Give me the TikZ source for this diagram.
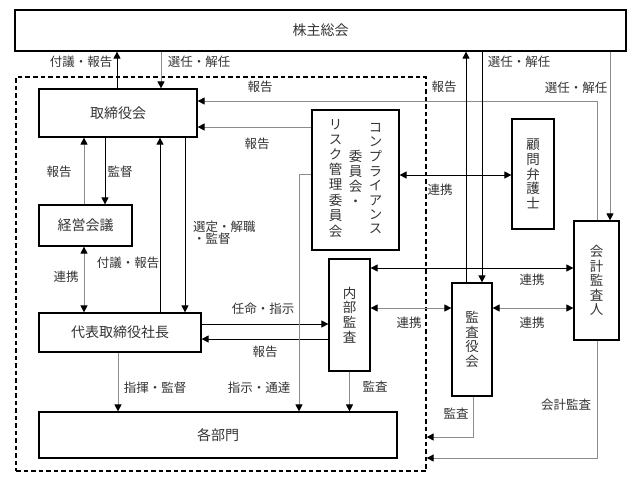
\documentclass[tikz,border=0pt]{standalone}
\usepackage{fontspec}
\setmainfont{Noto Sans CJK JP}
\newfontfamily\tatefont[RawFeature=+vert]{Noto Sans CJK JP}
\usetikzlibrary{positioning,arrows.meta,calc}

\begin{document}
\begin{tikzpicture}[x=1pt, y=-1pt,
    box/.style={draw, line width=1.2pt, inner sep=0pt, text=black!80, font=\fontsize{14}{16}\selectfont},
    tate/.style={box, align=center, font=\tatefont\fontsize{13.5}{14.6}\selectfont},
    lbl/.style={inner sep=0pt, text=black!80, font=\fontsize{12.5}{12}\selectfont},
    ln/.style={line width=0.8pt},
    gln/.style={line width=0.9pt, draw=black!45},
    >={Triangle[length=7pt, width=7pt, color=black]}]
  \useasboundingbox (0,0) rectangle (636,482);

  % boxes
  \node[box, minimum width=611, minimum height=41] (soukai) at (320.5,30.5) {株主総会};
  \node[draw, dash pattern=on 4.5pt off 3pt, line width=1.3pt, inner sep=0pt, minimum width=410, minimum height=394] (shanai) at (221,274) {};
  \node[box, minimum width=158, minimum height=48] (torishimari) at (118,113) {取締役会};
  \node[box, minimum width=93, minimum height=41] (kaigi) at (85.5,225.5) {経営会議};
  \node[box, minimum width=162, minimum height=39] (shacho) at (120,332.5) {代表取締役社長};
  \node[box, minimum width=358, minimum height=46] (bumon) at (218,435) {各部門};
  \node[box, font=\tatefont\fontsize{13.5}{14.3}\selectfont, minimum width=87, minimum height=140] (comp) at (355.5,180) {%
    \begin{tabular}{@{}c@{\hspace{6.5pt}}c@{\hspace{6.5pt}}c@{}}
      \begin{tabular}{@{}c@{}}リ\\ス\\ク\\管\\理\\委\\員\\会\end{tabular} &
      \begin{tabular}{@{}c@{}}委\\員\\会\\・\end{tabular} &
      \begin{tabular}{@{}c@{}}コ\\ン\\プ\\ラ\\イ\\ア\\ン\\ス\end{tabular}
    \end{tabular}};
  \node[tate, minimum width=42, minimum height=110] (komon) at (533,174) {顧\\問\\弁\\護\\士};
  \node[tate, minimum width=41, minimum height=112] (naibu) at (349.5,315) {内\\部\\監\\査};
  \node[tate, minimum width=40, minimum height=113] (kansayaku) at (472,339.5) {監\\査\\役\\会};
  \node[tate, minimum width=45, minimum height=119] (kaikei) at (596.5,280.5) {会\\計\\監\\査\\人};

  % 取締役会 and 株主総会
  \draw[ln,->] ([xshift=-1]torishimari.north) -- ([xshift=-1]torishimari.north |- soukai.south);
  \draw[gln,->] ([xshift=43]torishimari.north |- soukai.south) -- ([xshift=43]torishimari.north);
  \draw[gln,->] ([xshift=0.5]kaikei.north) |- ([yshift=12]torishimari.east);
  \draw[gln,->] ([yshift=53]comp.west) -- ([yshift=53]comp.west -| torishimari.east);

  % 経営会議, 代表取締役社長
  \draw[gln,->] ([xshift=-1.5]kaigi.north) -- ([xshift=-1.5]kaigi.north |- torishimari.south);
  \draw[ln,->] ([xshift=19.5]kaigi.north |- torishimari.south) -- ([xshift=19.5]kaigi.north);
  \draw[gln,<->] ([xshift=-1.5]kaigi.south) -- ([xshift=-1.5]kaigi.south |- shacho.north);
  \draw[ln,->] ([xshift=40]shacho.north) -- ([xshift=40]shacho.north |- torishimari.south);
  \draw[ln,->] ([xshift=65]shacho.north |- torishimari.south) -- ([xshift=65]shacho.north);
  \draw[ln,->] ([yshift=8.5]shacho.east) -- ([yshift=8.5]shacho.east -| naibu.west);
  \draw[ln,->] ([yshift=-6.5]shacho.east -| naibu.west) -- ([yshift=-6.5]shacho.east);

  % down to 各部門
  \draw[gln,->] ([xshift=-2]shacho.south) -- ([xshift=-2]shacho.south |- bumon.north);
  \draw[gln,->] ([yshift=6]comp.west) -| ([xshift=81]bumon.north);
  \draw[gln,->] (naibu.south) -- (naibu.south |- bumon.north);

  % 連携
  \draw[ln,<->] ([yshift=5]comp.east) -- ([yshift=5]comp.east -| komon.west);
  \draw[ln,<->] ([yshift=47]naibu.east) -- ([yshift=47]naibu.east -| kaikei.west);
  \draw[gln,<->] ([yshift=7]naibu.east) -- ([yshift=7]naibu.east -| kansayaku.west);
  \draw[gln,<->] ([yshift=31.5]kansayaku.east) -- ([yshift=31.5]kansayaku.east -| kaikei.west);

  % 監査役会, 会計監査人
  \draw[ln,->] ([xshift=-6]kansayaku.north) -- ([xshift=-6]kansayaku.north |- soukai.south);
  \draw[ln,->] ([xshift=10]kansayaku.north |- soukai.south) -- ([xshift=10]kansayaku.north);
  \draw[gln,->] ([xshift=13.5]kaikei.north |- soukai.south) -- ([xshift=13.5]kaikei.north);
  \draw[gln,->] ([xshift=1]kansayaku.south) |- ([yshift=-163]shanai.east);
  \draw[gln,->] ([xshift=0.5]kaikei.south) |- ([yshift=-184]shanai.east);

  % labels
  \node[lbl] (l-fugi1) at (81,62) {付議・報告};
  \node[lbl] (l-sennin1) at (199,62) {選任・解任};
  \node[lbl] (l-hokoku1) at (260,87) {報告};
  \node[lbl] (l-hokoku2) at (257,144) {報告};
  \node[lbl] (l-hokoku3) at (59,172) {報告};
  \node[lbl] (l-kantoku) at (120,172) {監督};
  \node[lbl] (l-renkei1) at (66,277) {連携};
  \node[lbl] (l-fugi2) at (128,263) {付議・報告};
  \node[lbl, align=left, anchor=west] (l-sentei) at (193,233) {選定・解職\\・監督};
  \node[lbl] (l-ninmei) at (263,309) {任命・指示};
  \node[lbl] (l-hokoku4) at (265,352) {報告};
  \node[lbl] (l-shiki) at (155,388) {指揮・監督};
  \node[lbl] (l-shiji) at (259,388) {指示・通達};
  \node[lbl] (l-kansa1) at (375,387) {監査};
  \node[lbl] (l-renkei2) at (440,190) {連携};
  \node[lbl] (l-renkei3) at (532,280) {連携};
  \node[lbl] (l-renkei4) at (409,323) {連携};
  \node[lbl] (l-renkei5) at (532,323) {連携};
  \node[lbl] (l-hokoku5) at (444,87) {報告};
  \node[lbl] (l-sennin2) at (519,62) {選任・解任};
  \node[lbl] (l-sennin3) at (576,88) {選任・解任};
  \node[lbl] (l-kansa2) at (456,414) {監査};
  \node[lbl] (l-kaikei) at (566,405) {会計監査};
\end{tikzpicture}
\end{document}
